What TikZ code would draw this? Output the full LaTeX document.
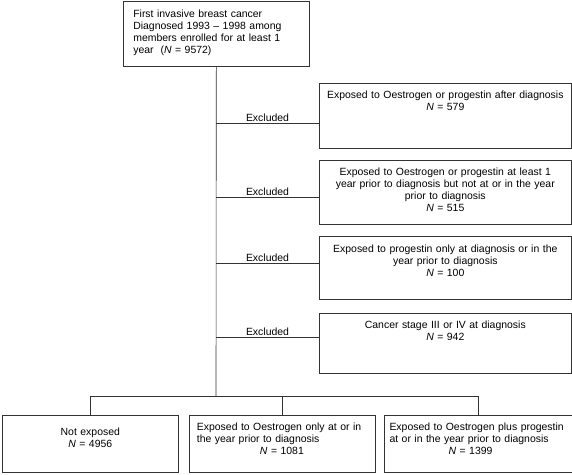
\documentclass[tikz,border=0pt]{standalone}
\usepackage{fontspec}
\setmainfont{Liberation Sans}
\usepackage{xcolor}
\usepackage{tikz}
\usetikzlibrary{positioning}

\begin{document}
\begin{tikzpicture}[x=1pt, y=-1pt, node distance=11pt,
    box/.style={rectangle, draw=black!80, line width=0.6pt, inner xsep=4pt, inner ysep=0pt,
      text height=15.5pt, font=\fontsize{10.45}{12}\selectfont, align=center},
    line/.style={draw=black!80, line width=0.6pt},
    tag/.style={above, inner sep=1.5pt, font=\fontsize{10.45}{12}\selectfont}]

    \useasboundingbox (0,0) rectangle (572,474);

    % cohort
    \node[box, anchor=north west, align=left, inner xsep=10pt, text height=17pt,
      text width=166pt, text depth=48.5pt] (cohort) at (123,0.5)
      {First invasive breast cancer\\Diagnosed 1993 – 1998 among\\members enrolled for at least 1\\year\ \ (\textit{N} = 9572)};

    % exclusions
    \node[box, anchor=north west, text width=244pt, text depth=49.5pt] (excl1) at (319,83)
      {Exposed to Oestrogen or progestin after diagnosis\\\textit{N} = 579};
    \node[box, below=of excl1, text width=244pt, text depth=48.5pt] (excl2)
      {Exposed to Oestrogen or progestin at least 1\\year prior to diagnosis but not at or in the year\\prior to diagnosis\\\textit{N} = 515};
    \node[box, below=12pt of excl2, text width=244pt, text depth=47.5pt] (excl3)
      {Exposed to progestin only at diagnosis or in the\\year prior to diagnosis\\\textit{N} = 100};
    \node[box, below=13pt of excl3, text width=244pt, text depth=44.5pt] (excl4)
      {Cancer stage III or IV at diagnosis\\\textit{N} = 942};

    % exposure groups
    \node[box, anchor=north west, text width=168pt, text height=20pt, text depth=37pt] (notexp) at (2,415)
      {Not exposed\\\textit{N} = 4956};
    \node[box, right=10pt of notexp, align=left, inner xsep=8pt, text width=170pt, text depth=41.5pt] (oestr)
      {Exposed to Oestrogen only at or in\\the year prior to diagnosis\\\makebox[\linewidth]{\textit{N} = 1081}};
    \node[box, right=9pt of oestr, align=left, inner xsep=5pt, text width=178pt, text depth=41.5pt] (oestrprog)
      {Exposed to Oestrogen plus progestin\\at or in the year prior to diagnosis\\\makebox[\linewidth]{\textit{N} = 1399\hspace{16pt}}};

    \coordinate (j1) at (216,123);
    \coordinate (j2) at (216,197);
    \coordinate (j3) at (216,263);
    \coordinate (j4) at (216,337);
    \coordinate (split) at (216,396);

    \draw[line] (cohort.south) -- (split);
    \draw[line] (j1) -- (j1 -| excl1.west) node[midway, tag] {Excluded};
    \draw[line] (j2) -- (j2 -| excl2.west) node[midway, tag] {Excluded};
    \draw[line] (j3) -- (j3 -| excl3.west) node[midway, tag] {Excluded};
    \draw[line] (j4) -- (j4 -| excl4.west) node[midway, tag] {Excluded};
    \draw[line] (notexp.north |- split) -- (oestrprog.north |- split);
    \foreach \grp in {notexp, oestr, oestrprog}
      \draw[line] (\grp.north |- split) -- (\grp.north);
\end{tikzpicture}
\end{document}
